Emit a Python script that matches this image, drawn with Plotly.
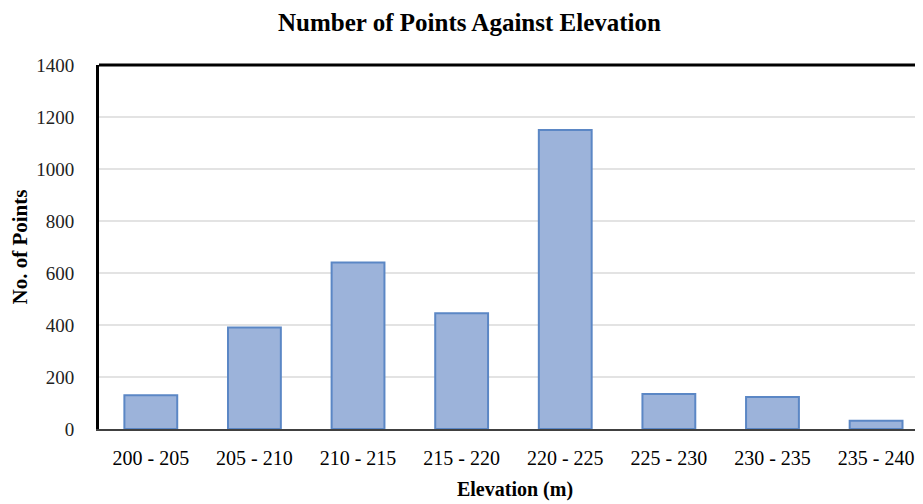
import plotly.graph_objects as go

categories = ["200 - 205", "205 - 210", "210 - 215", "215 - 220",
              "220 - 225", "225 - 230", "230 - 235", "235 - 240"]
counts = [130, 390, 640, 445, 1150, 135, 123, 32]
y_ticks = [0, 200, 400, 600, 800, 1000, 1200, 1400]

serif = "Liberation Serif, Times New Roman, serif"

fig = go.Figure()
fig.add_trace(go.Bar(
    x=categories, y=counts, width=0.51,
    marker=dict(color="#9cb3da", line=dict(color="#5b87c5", width=2)),
))

fig.update_layout(
    width=923, height=504,
    margin=dict(l=91, r=0, t=57, b=83),
    paper_bgcolor="white", plot_bgcolor="white",
    showlegend=False,
    title=dict(text="<b>Number of Points Against Elevation</b>",
               x=0.5, xanchor="center", y=0.972, yanchor="middle",
               font=dict(family=serif, size=25, color="black")),
    font=dict(family=serif, color="black"),
    xaxis=dict(
        range=[-0.5, 7.53],
        showline=True, linecolor="#404040", linewidth=2,
        ticks="", ticklabelstandoff=10,
        tickfont=dict(family=serif, size=20, color="black"),
        title=dict(text="<b>Elevation (m)</b>", standoff=14,
                   font=dict(family=serif, size=20, color="black")),
        showgrid=False,
    ),
    yaxis=dict(
        range=[0, 1400], tickvals=y_ticks,
        showline=True, linecolor="black", linewidth=3,
        showgrid=True, gridcolor="#e3e3e3", gridwidth=2,
        zeroline=False,
        ticks="", ticklabelstandoff=18,
        tickfont=dict(family=serif, size=19, color="#222222"),
        title=dict(text="<b>No. of Points</b>", standoff=14,
                   font=dict(family=serif, size=21, color="black")),
    ),
    bargap=0.49,
)

fig.add_shape(type="line", xref="paper", yref="paper",
              x0=0, x1=1, y0=1, y1=1,
              line=dict(color="black", width=3))

fig.write_html("out.html")
